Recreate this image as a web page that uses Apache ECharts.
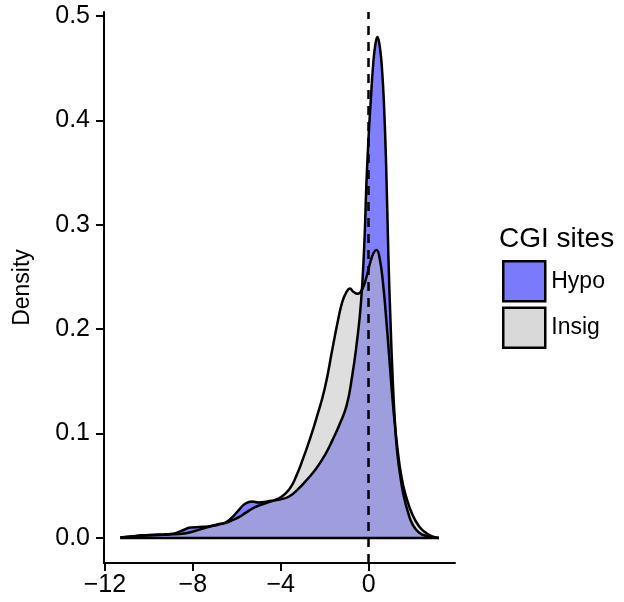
<!DOCTYPE html>
<html>
<head>
<meta charset="utf-8">
<script src="https://cdn.jsdelivr.net/npm/echarts@6/dist/echarts.min.js"></script>
<style>html,body{margin:0;padding:0;background:#fff}#c{width:624px;height:602px}</style>
</head>
<body>
<div id="c"></div>
<script>
// Data
const hypoX = [-11.3,-10.8,-10.3,-9.8,-9.3,-8.9,-8.5,-8.1,-7.7,-7.3,-6.9,-6.5,-6.2,-5.9,-5.6,-5.3,-5.0,-4.6,-4.3,-4.0,-3.6,-3.2,-2.8,-2.4,-2.0,-1.64,-1.3,-1.0,-0.75,-0.55,-0.35,-0.2,-0.1,0.0,0.1,0.2,0.3,0.4,0.5,0.6,0.7,0.8,0.9,1.0,1.1,1.2,1.3,1.45,1.6,1.8,2.0,2.3,2.7,3.2];
const hypoY = [0.0005,0.0015,0.0025,0.003,0.0035,0.004,0.007,0.010,0.0105,0.011,0.013,0.015,0.020,0.027,0.033,0.035,0.034,0.035,0.036,0.037,0.040,0.047,0.056,0.066,0.079,0.094,0.110,0.127,0.155,0.185,0.225,0.28,0.34,0.385,0.420,0.452,0.472,0.480,0.472,0.452,0.415,0.355,0.27,0.205,0.150,0.110,0.082,0.058,0.040,0.024,0.013,0.005,0.0015,0.0];
const insigX = [-11.3,-10.8,-10.3,-9.8,-9.3,-8.9,-8.5,-8.1,-7.7,-7.3,-6.9,-6.5,-6.2,-5.9,-5.6,-5.3,-5.0,-4.6,-4.3,-4.0,-3.6,-3.3,-3.0,-2.7,-2.4,-2.0,-1.64,-1.4,-1.2,-1.0,-0.85,-0.7,-0.5,-0.3,-0.1,0.1,0.25,0.36,0.5,0.65,0.8,0.95,1.1,1.3,1.5,1.7,2.0,2.3,2.6,2.9,3.2];
const insigY = [0.0005,0.0015,0.002,0.0025,0.003,0.0035,0.004,0.0055,0.008,0.0105,0.0125,0.0145,0.017,0.020,0.024,0.028,0.031,0.034,0.036,0.039,0.047,0.059,0.075,0.093,0.113,0.143,0.182,0.208,0.226,0.236,0.239,0.236,0.234,0.238,0.250,0.266,0.274,0.276,0.268,0.245,0.210,0.170,0.130,0.088,0.058,0.040,0.022,0.011,0.005,0.0015,0.0];
const xTicks = [-12, -8, -4, 0];
const yTicks = [0, 0.1, 0.2, 0.3, 0.4, 0.5];
const seriesNames = ['Hypo', 'Insig'];
const legendTitle = 'CGI sites';
const yName = 'Density';
const vlineX = 0;

const FONT = 'Liberation Sans, Arial, Helvetica, sans-serif';
const zip = (xs, ys) => xs.map((x, i) => [x, ys[i]]);
const chart = echarts.init(document.getElementById('c'), null, {renderer: 'canvas'});
const lineBase = {
  type: 'line', showSymbol: false, symbol: 'none', smooth: 0.5,
  silent: true, animation: false
};
chart.setOption({
  animation: false,
  backgroundColor: '#ffffff',
  grid: {left: 104, right: 169, top: 12, bottom: 39, outerBoundsMode: 'none', containLabel: false},
  title: {
    text: legendTitle, left: 499, top: 225, padding: 0,
    textStyle: {fontFamily: FONT, fontSize: 28, fontWeight: 'normal', color: '#000'}
  },
  legend: {
    orient: 'vertical', left: 502, top: 260, itemGap: 4, padding: 0,
    itemWidth: 42, itemHeight: 40, icon: 'rect',
    textStyle: {fontFamily: FONT, fontSize: 23, color: '#000', padding: [0, 0, 0, 1]},
    data: [
      {name: seriesNames[0], itemStyle: {color: '#7a7afc', borderColor: '#000', borderWidth: 2.5}},
      {name: seriesNames[1], itemStyle: {color: '#d9d9d9', borderColor: '#000', borderWidth: 2.5}}
    ],
    selectedMode: false
  },
  xAxis: {
    type: 'value', min: -12.04, max: 3.93,
    axisLine: {onZero: false, lineStyle: {color: '#000', width: 2}},
    axisTick: {show: true, length: 8, customValues: xTicks, lineStyle: {color: '#000', width: 2}},
    axisLabel: {customValues: xTicks, margin: 10, fontFamily: FONT, fontSize: 25, color: '#000',
      formatter: v => String(v).replace('-', '\u2212')},
    splitLine: {show: false}
  },
  yAxis: {
    type: 'value', min: -0.024, max: 0.504,
    name: yName, nameLocation: 'middle', nameGap: 70, nameRotate: 90,
    nameTextStyle: {fontFamily: FONT, fontSize: 23, color: '#000'},
    axisLine: {onZero: false, lineStyle: {color: '#000', width: 2}},
    axisTick: {show: true, length: 8, customValues: yTicks, lineStyle: {color: '#000', width: 2}},
    axisLabel: {customValues: yTicks, margin: 14, fontFamily: FONT, fontSize: 25, color: '#000',
      formatter: v => v.toFixed(1)},
    splitLine: {show: false}
  },
  series: [
    Object.assign({}, lineBase, {
      name: seriesNames[0], data: zip(hypoX, hypoY), color: '#7a7afc',
      lineStyle: {color: '#000', width: 2.5},
      areaStyle: {color: 'rgba(0,0,255,0.5)', opacity: 1},
      itemStyle: {color: '#7a7afc'}
    }),
    Object.assign({}, lineBase, {
      name: seriesNames[1], data: zip(insigX, insigY), color: '#d9d9d9',
      lineStyle: {color: '#000', width: 2.5},
      areaStyle: {color: 'rgba(190,190,190,0.5)', opacity: 1},
      itemStyle: {color: '#d9d9d9'}
    }),
    Object.assign({}, lineBase, {
      name: 'baseline', smooth: false,
      data: [[Math.min(hypoX[0], insigX[0]), 0], [Math.max(hypoX[hypoX.length-1], insigX[insigX.length-1]), 0]],
      lineStyle: {color: '#000', width: 2.5},
      markLine: {
        silent: true, symbol: 'none', label: {show: false}, z: 10,
        lineStyle: {color: '#000', width: 2.5, type: [9, 7]},
        data: [{xAxis: vlineX}]
      }
    })
  ]
});
</script>
</body>
</html>
